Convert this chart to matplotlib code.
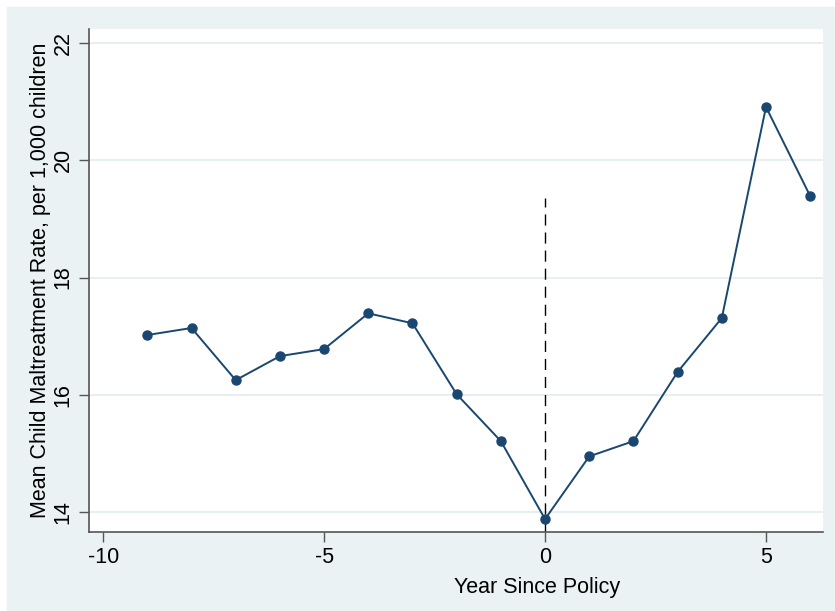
import numpy as np
import matplotlib.pyplot as plt
from matplotlib.patches import Rectangle

plt.rcParams['font.family'] = ['Liberation Sans', 'DejaVu Sans']

# Mean maltreatment rate by year relative to policy
anio = np.array([-9, -8, -7, -6, -5, -4, -3, -2, -1, 0, 1, 2, 3, 4, 5, 6])
tasa = np.array([17.02, 17.14, 16.25, 16.66, 16.78, 17.39, 17.22, 16.01, 15.21,
                 13.88, 14.95, 15.21, 16.39, 17.31, 20.91, 19.39])
xticks = [-10, -5, 0, 5]
yticks = [14, 16, 18, 20, 22]
tope_linea = 19.35  # height of the dashed policy line

azul = '#1A476F'
fondo = '#EAF2F3'

fig = plt.figure(figsize=(8.35, 6.11), dpi=100, facecolor='white')
fig.patches.append(Rectangle((7 / 835, 0), 1 - 7 / 835, 604 / 611,
                             transform=fig.transFigure, color=fondo, zorder=-1))

ax = fig.add_axes([89 / 835, 79 / 611, 734 / 835, 503 / 611])
ax.set_facecolor('white')

for y in yticks:
    ax.axhline(y, color='#E3ECF0', lw=1.2, zorder=0)

ax.plot([0, 0], [13.66, tope_linea], color='black', lw=1, ls=(0, (8, 5)), zorder=1)
ax.plot(anio, tasa, color=azul, lw=1.4, marker='o', ms=6.5, zorder=3)

ax.set_xlim(-10.32, 6.29)
ax.set_ylim(13.66, 22.24)
ax.set_xticks(xticks)
ax.set_yticks(yticks)
ax.set_xticklabels(['-10', '-5', '0', '5'], fontsize=15.5)
ax.set_yticklabels([str(v) for v in yticks], fontsize=15.5, rotation=90, va='center')
ax.tick_params(direction='out', length=7, width=1, color='#555555', pad=4)

for lado in ['top', 'right']:
    ax.spines[lado].set_visible(False)
for lado in ['left', 'bottom']:
    ax.spines[lado].set_color('#555555')
    ax.spines[lado].set_linewidth(1.2)

# x title sits right of the axes centre
fig.text(537 / 835, (611 - 587) / 611, 'Year Since Policy', fontsize=15.5,
         ha='center', va='center')
ax.set_ylabel('Mean Child Maltreatment Rate, per 1,000 children', fontsize=15.5, labelpad=1)

fig.savefig('out.png', dpi=100)
